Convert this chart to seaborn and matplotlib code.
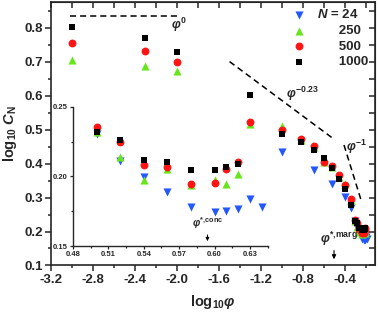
import matplotlib
matplotlib.use("Agg")
import matplotlib.pyplot as plt
from matplotlib.ticker import MultipleLocator
import numpy as np
import pandas as pd
import seaborn as sns

nan = np.nan

# volume fraction of each simulated state
phi = [0.001, 0.005, 0.01, 0.05, 0.1, 0.15, 0.2, 0.25, 0.3, 0.35, 0.4, 0.45,
       0.50, 0.52, 0.54, 0.56, 0.58, 0.60, 0.61, 0.62, 0.63, 0.64]

# log10 C_N for each chain length
logc_24 = [nan, nan, nan, nan, 0.433, nan, 0.382, nan, 0.340, nan, 0.303, 0.269,
           0.2302, 0.2112, 0.1993, 0.1890, 0.1782, 0.1742, 0.1753, 0.1766, 0.1835, 0.1782]
logc_250 = [0.705, 0.689, 0.672, 0.517, 0.511, 0.470, 0.449, 0.404, 0.390, 0.362, 0.340, 0.292,
            0.2320, 0.2141, 0.1974, 0.2055, 0.1935, 0.1974, 0.1943, 0.2015, nan, nan]
logc_500 = [0.757, 0.731, 0.699, 0.522, 0.500, 0.473, 0.453, 0.406, 0.394, 0.367, 0.337, 0.296,
            0.2352, 0.2244, 0.2081, 0.2069, 0.1943, 0.1955, 0.2053, 0.2101, nan, nan]
logc_1000 = [0.804, 0.770, 0.729, 0.603, 0.488, 0.463, 0.439, 0.416, 0.386, 0.354, 0.325, 0.278,
             0.2316, 0.2261, 0.2117, 0.2105, 0.2046, 0.2046, 0.2065, 0.2089, nan, nan]

chain_lengths = ["24", "250", "500", "1000"]
legend_labels = [r"$N$ = 24", "      250", "      500", "      1000"]

# scaling guide lines
flat_x = [-3.02, -2.0]
flat_y = 0.834
guide023_x = [-1.50, -0.505]
guide023_y0 = 0.701
guide1_x = [-0.41, -0.24]
guide1_y0 = 0.455

phi_marg = 10 ** -0.505
phi_conc = 0.594

df = pd.DataFrame({"phi": phi, "24": logc_24, "250": logc_250,
                   "500": logc_500, "1000": logc_1000})
df = df.melt(id_vars="phi", var_name="N", value_name="logC").dropna()
df["logphi"] = np.log10(df["phi"])

markers = {"24": "v", "250": "^", "500": "o", "1000": "s"}
colors = {"24": "#2458ff", "250": "#66e61a", "500": "#ff1414", "1000": "#000000"}
sizes = {"24": 34, "250": 34, "500": 32, "1000": 25}

sns.set_style("ticks")
plt.rcParams["font.family"] = ["Liberation Sans", "DejaVu Sans"]
plt.rcParams["font.weight"] = "bold"
plt.rcParams["mathtext.fontset"] = "custom"
plt.rcParams["mathtext.rm"] = "Liberation Sans:bold"
plt.rcParams["mathtext.it"] = "Liberation Sans:bold:italic"
plt.rcParams["mathtext.bf"] = "Liberation Sans:bold"

fig = plt.figure(figsize=(3.78, 3.13), dpi=100)
ax = fig.add_axes([0.135, 0.152, 0.857, 0.842])

for n, lab in zip(chain_lengths, legend_labels):
    sub = df[df["N"] == n]
    sns.scatterplot(x=sub["logphi"], y=sub["logC"], marker=markers[n], color=colors[n],
                    s=sizes[n], linewidth=0, label=lab, ax=ax, zorder=3)

ax.plot(flat_x, [flat_y, flat_y], color="black", lw=1.1, dashes=(4, 2.6))
gx = np.array(guide023_x)
ax.plot(gx, guide023_y0 - 0.23 * (gx - gx[0]), color="black", lw=1.1, dashes=(4, 2.6))
gx = np.array(guide1_x)
ax.plot(gx, guide1_y0 - 1.0 * (gx - gx[0]), color="black", lw=1.1, dashes=(4, 2.6))

ax.text(-1.98, 0.809, r"$\varphi^{0}$", fontsize=9, ha="center", va="center")
ax.text(-0.80, 0.606, r"$\varphi^{-0.23}$", fontsize=9, ha="center", va="center")
ax.text(-0.29, 0.450, r"$\varphi^{-1}$", fontsize=9, ha="center", va="center")
ax.text(-0.46, 0.177, r"$\varphi^{*{,}\mathrm{marg}}$", fontsize=9, ha="center", va="center")
ax.annotate("", xy=(np.log10(phi_marg), 0.110), xytext=(np.log10(phi_marg), 0.152),
            arrowprops=dict(arrowstyle="-|>", color="black", lw=0.8, mutation_scale=6))

ax.set_xlim(-3.2, -0.115)
ax.set_ylim(0.1, 0.877)
ax.xaxis.set_minor_locator(MultipleLocator(0.2))
ax.yaxis.set_minor_locator(MultipleLocator(0.05))
ax.set_xticks(np.arange(-3.2, -0.39, 0.4))
ax.set_xticklabels([f"{v:.1f}" for v in np.arange(-3.2, -0.39, 0.4)])
ax.set_yticks(np.arange(0.1, 0.81, 0.1))
ax.set_yticklabels([f"{v:.1f}" for v in np.arange(0.1, 0.81, 0.1)])
ax.tick_params(which="major", direction="out", length=4, width=1.1, labelsize=9.5, pad=2)
ax.tick_params(which="minor", direction="out", length=2.5, width=1.1)
for sp in ax.spines.values():
    sp.set_linewidth(1.2)

top = ax.secondary_xaxis("top")
top.xaxis.set_major_locator(MultipleLocator(0.4))
top.xaxis.set_minor_locator(MultipleLocator(0.2))
top.tick_params(which="both", direction="in", labeltop=False, length=4, width=1.1)
right = ax.secondary_yaxis("right")
right.yaxis.set_major_locator(MultipleLocator(0.1))
right.yaxis.set_minor_locator(MultipleLocator(0.05))
right.tick_params(which="both", direction="in", labelright=False, length=4, width=1.1)

ax.set_xlabel(r"log$_{10}$$\varphi$", fontsize=10.5, fontweight="bold", labelpad=5)
ax.set_ylabel(r"log$_{10}$ $C_{\mathrm{N}}$", fontsize=10.5, fontweight="bold", labelpad=4)

leg = ax.legend(loc="upper right", frameon=False, handletextpad=0.4,
                labelspacing=0.25, borderaxespad=0.4, borderpad=0.1,
                prop={"weight": "bold", "size": 9.5})

# inset: linear phi around the jamming region
axin = fig.add_axes([0.193, 0.214, 0.515, 0.445])
axin.patch.set_alpha(0)
for n in chain_lengths:
    sub = df[df["N"] == n]
    sns.scatterplot(x=sub["phi"], y=sub["logC"], marker=markers[n], color=colors[n],
                    s=sizes[n], linewidth=0, legend=False, ax=axin, zorder=3)
axin.set_xlim(0.48, 0.645)
axin.set_ylim(0.15, 0.25)
axin.set_xticks([0.48, 0.51, 0.54, 0.57, 0.60, 0.63])
axin.set_xticklabels(["0.48", "0.51", "0.54", "0.57", "0.60", "0.63"])
axin.xaxis.set_minor_locator(MultipleLocator(0.015))
axin.set_yticks([0.15, 0.20, 0.25])
axin.set_yticklabels(["0.15", "0.20", "0.25"])
axin.yaxis.set_minor_locator(MultipleLocator(0.025))
axin.tick_params(which="major", direction="out", length=2.5, width=0.9, labelsize=5.5, pad=1)
axin.tick_params(which="minor", direction="out", length=1.5, width=0.9)
axin.spines["top"].set_visible(False)
axin.spines["right"].set_visible(False)
for sp in ("left", "bottom"):
    axin.spines[sp].set_linewidth(1.0)
axin.set_xlabel("")
axin.set_ylabel("")
axin.text(phi_conc, 0.1665, r"$\varphi^{*{,}\mathrm{conc}}$", fontsize=7.5, ha="center", va="center")
axin.annotate("", xy=(phi_conc, 0.1515), xytext=(phi_conc, 0.160),
              arrowprops=dict(arrowstyle="-|>", color="black", lw=0.7, mutation_scale=5))

fig.savefig("out.png", dpi=100)
